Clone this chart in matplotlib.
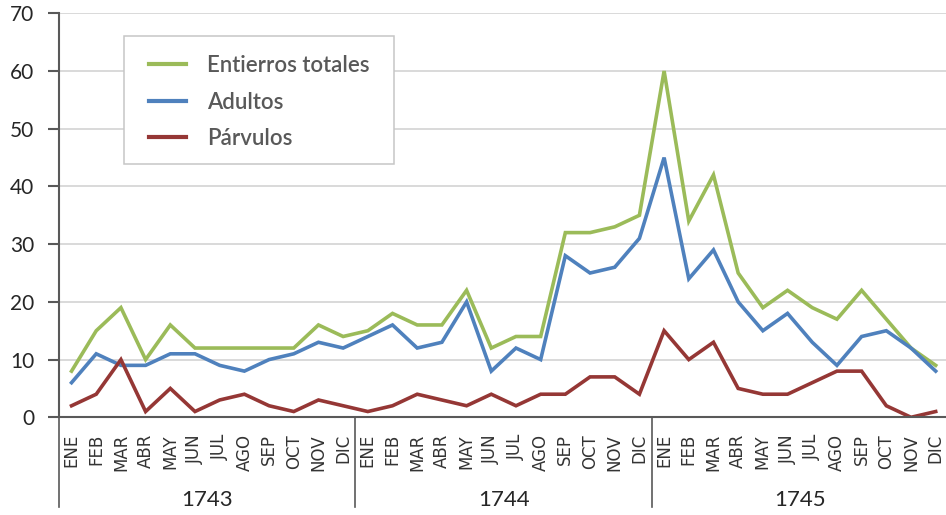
import matplotlib
matplotlib.use("Agg")
import matplotlib.pyplot as plt
from matplotlib.patches import Rectangle
from matplotlib.lines import Line2D

months = ["ENE", "FEB", "MAR", "ABR", "MAY", "JUN", "JUL", "AGO", "SEP", "OCT", "NOV", "DIC"]
years = ["1743", "1744", "1745"]

total = [8, 15, 19, 10, 16, 12, 12, 12, 12, 12, 16, 14,
         15, 18, 16, 16, 22, 12, 14, 14, 32, 32, 33, 35,
         60, 34, 42, 25, 19, 22, 19, 17, 22, 17, 12, 9]
adultos = [6, 11, 9, 9, 11, 11, 9, 8, 10, 11, 13, 12,
           14, 16, 12, 13, 20, 8, 12, 10, 28, 25, 26, 31,
           45, 24, 29, 20, 15, 18, 13, 9, 14, 15, 12, 8]
parvulos = [2, 4, 10, 1, 5, 1, 3, 4, 2, 1, 3, 2,
            1, 2, 4, 3, 2, 4, 2, 4, 4, 7, 7, 4,
            15, 10, 13, 5, 4, 4, 6, 8, 8, 2, 0, 1]

series_names = ["Entierros totales", "Adultos", "Párvulos"]
series_colors = ["#9BBB59", "#4F81BD", "#953735"]

W, H = 946, 515
fig = plt.figure(figsize=(W / 100, H / 100), dpi=100)
step = 24.69
ax_left = 59.2
ax = fig.add_axes([ax_left / W, (H - 417.3) / H, 36 * step / W, 404 / H])

labels = [m for _ in years for m in months]
x = list(range(len(labels)))

for vals, name, col in zip([total, adultos, parvulos], series_names, series_colors):
    ax.plot(x, vals, color=col, lw=2.6, label=name, zorder=3, solid_joinstyle="miter")

ax.set_xlim(-0.5, len(labels) - 0.5)
ax.set_ylim(0, 70)
ax.set_yticks(range(0, 71, 10))
ax.grid(axis="y", color="#d9d9d9", lw=1.4, zorder=0)
ax.set_axisbelow(True)

for s in ["top", "right"]:
    ax.spines[s].set_visible(False)
ax.spines["left"].set_color("#595959")
ax.spines["left"].set_linewidth(1.5)
ax.spines["bottom"].set_color("#595959")
ax.spines["bottom"].set_linewidth(1.5)
ax.spines["bottom"].set_zorder(4)

ax.tick_params(axis="y", length=8, width=1.5, color="#595959", pad=10,
               labelsize=15, labelcolor="#262626")
for t in ax.get_yticklabels():
    t.set_family("Lato")

ax.set_xticks(x)
ax.set_xticklabels(labels, rotation=90, fontsize=12, color="#333333",
                   family="DejaVu Sans")
ax.tick_params(axis="x", length=0, pad=12)

# year group separators and labels
sep_depth = -90 / 404
for k in range(len(years) + 1):
    xv = k * 12 - 0.5
    ax.add_line(Line2D([xv, xv], [0, sep_depth], transform=ax.get_xaxis_transform(),
                       color="#595959", lw=1.2, clip_on=False))
for k, yr in enumerate(years):
    ax.text(k * 12 + 5.5, -83 / 404, yr, transform=ax.get_xaxis_transform(),
            ha="center", va="center", fontsize=16, family="Lato", color="#262626")

# legend frame and legend
frame = Rectangle((124 / W, 1 - 164 / H), (394 - 124) / W, (164 - 36) / H,
                  transform=fig.transFigure, facecolor="white", edgecolor="#c6c6c6",
                  lw=1.1, zorder=4.5, clip_on=False)
ax.add_patch(frame)
leg = ax.legend(frameon=False, loc="upper left", bbox_to_anchor=(149 / W, 1 - 55 / H),
                bbox_transform=fig.transFigure, borderpad=0, borderaxespad=0,
                handlelength=1.65, handletextpad=0.95, labelspacing=0.7,
                prop={"family": "Lato", "weight": "semibold", "size": 16},
                labelcolor="#595959")
for l in leg.get_lines():
    l.set_linewidth(3.0)
leg.set_zorder(6)

fig.savefig("out.png", dpi=100)
